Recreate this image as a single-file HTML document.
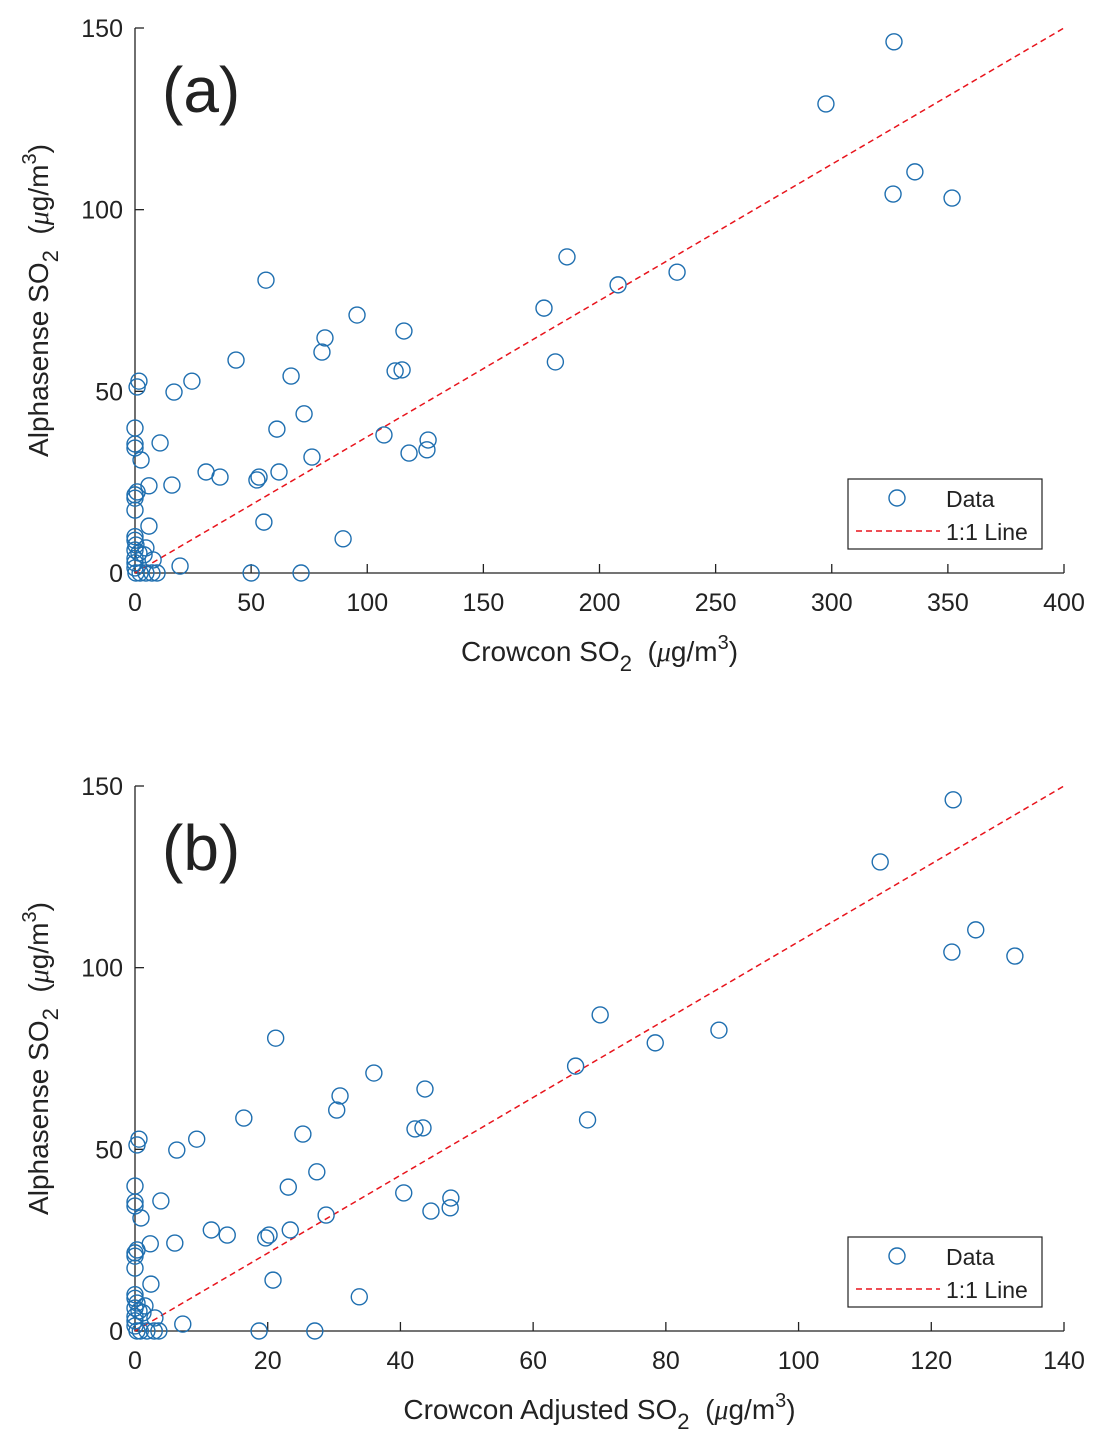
<!DOCTYPE html>
<html><head><meta charset="utf-8"><style>
body{margin:0;background:#fff}
svg{font-family:"Liberation Sans",sans-serif}
</style></head><body>
<svg id="s" width="1102" height="1446" xmlns="http://www.w3.org/2000/svg"></svg>
<script>
const ys=[146.2,129.1,110.4,104.3,103.2,87,79.3,82.8,72.9,58.1,80.6,71,66.6,64.7,60.8,55.6,55.9,54.2,58.6,52.8,52.8,51.2,49.8,43.8,38,39.6,36.6,33.9,33,31.9,39.9,35.5,34.4,35.8,31.1,27.8,26.4,26.4,25.6,27.8,24.2,24,22.3,21.5,20.6,17.3,12.9,14,9.4,1.9,0,0,3.6,0,0,0,0,10,9,7.7,6.3,5.5,5,4,2.8,1.4,0,6.9];
const xsA=[326.8,297.5,335.8,326.4,351.8,186,208,233.4,176.1,181,56.4,95.6,115.8,81.8,80.5,112,115,67.2,43.5,24.5,1.7,0.9,16.8,72.8,107.2,61.1,126.2,125.7,118,76.2,0,0,0,10.8,2.6,30.6,36.6,53.4,52.5,62,15.9,6,0.9,0,0,0,6,55.5,89.6,19.4,50,71.5,7.8,9.5,7.3,4.7,2.2,0,0,0.4,0,1.7,3.9,0,0,0,0.4,4.7];
const xsB=[123.3,112.3,126.7,123.1,132.6,70.1,78.4,88,66.4,68.2,21.2,36,43.7,30.9,30.4,42.2,43.4,25.3,16.4,9.3,0.6,0.3,6.3,27.4,40.5,23.1,47.6,47.5,44.6,28.8,0,0,0,3.9,0.9,11.5,13.9,20.2,19.7,23.4,6,2.3,0.3,0,0,0,2.4,20.8,33.8,7.2,18.7,27.1,3,3.6,2.9,1.8,0.8,0,0,0.3,0,0.6,1.2,0,0,0,0.3,1.5];
const xTicksA=[0,50,100,150,200,250,300,350,400];
const xTicksB=[0,20,40,60,80,100,120,140];
const yTicks=[0,50,100,150];
const NS="http://www.w3.org/2000/svg";
const svg=document.getElementById('s');
function el(t,a,p,txt){const e=document.createElementNS(NS,t);for(const k in a)e.setAttribute(k,a[k]);if(txt!==undefined)e.textContent=txt;(p||svg).appendChild(e);return e;}
const unit='SO<tspan font-size="22" dy="10">2</tspan><tspan dy="-10">&#160;&#160;(</tspan><tspan font-family="Liberation Serif" font-style="italic">μ</tspan>g/m<tspan font-size="20" dy="-12">3</tspan><tspan dy="12">)</tspan>';
function panel(id,top,xs,xmax,xTicks,letter,xlabel){
  const L=135,R=1064,T=top,B=top+545;
  const g=el('g',{});
  
  
  const sx=v=>L+v/xmax*(R-L), sy=v=>B-v/150*(B-T);
  const ax=el('path',{d:`M${L},${T} V${B} H${R}`,stroke:'#222',fill:'none','stroke-width':1.3},g);
  
  
  xTicks.forEach(t=>{const x=sx(t);
    el('line',{x1:x,x2:x,y1:B,y2:B-9,stroke:'#222','stroke-width':1.3},g);
    const tx=el('text',{x:x,y:B+38,'font-size':25,'text-anchor':'middle',fill:'#222'},g,t);
    
    });
  yTicks.forEach(t=>{const y=sy(t);
    el('line',{x1:L,x2:L+9,y1:y,y2:y,stroke:'#222','stroke-width':1.3},g);
    const tx=el('text',{x:L-12,y:y+9,'font-size':25,'text-anchor':'end',fill:'#222'},g,t);
    
    });
  const ln=el('line',{x1:sx(0),y1:sy(0),x2:R,y2:sy(150),stroke:'#e8141c','stroke-width':1.5,'stroke-dasharray':'6,4'},g);
  
  
  xs.forEach((x,i)=>{const c=el('circle',{cx:sx(x),cy:sy(ys[i]),r:8,fill:'none',stroke:'#1f6fb0','stroke-width':1.4},g);
    
    });
  const lt=el('text',{x:162,y:top+84,'font-size':64,fill:'#222'},g,letter);
  
  
  const xl=el('text',{x:(L+R)/2,y:B+88,'font-size':28,'text-anchor':'middle',fill:'#222'},g);
  xl.innerHTML=xlabel+' '+unit;
  
  
  const yl=el('text',{transform:`translate(48,${(T+B)/2}) rotate(-90)`,'font-size':28,'text-anchor':'middle',fill:'#222'},g);
  yl.innerHTML='Alphasense '+unit;
  
  
  const lg=el('g',{},g);
  
  
  const ly=top+451;
  el('rect',{x:848,y:ly,width:194,height:70,fill:'#fff',stroke:'#222','stroke-width':1.2},lg);
  el('circle',{cx:897,cy:ly+19,r:8,fill:'none',stroke:'#1f6fb0','stroke-width':1.4},lg);
  el('text',{x:946,y:ly+28,'font-size':23,fill:'#222'},lg,'Data');
  el('line',{x1:856,x2:940,y1:ly+52,y2:ly+52,stroke:'#e8141c','stroke-width':1.5,'stroke-dasharray':'6,4'},lg);
  el('text',{x:946,y:ly+61,'font-size':23,fill:'#222'},lg,'1:1 Line');
}
panel('a',28,xsA,400,xTicksA,'(a)','Crowcon');
panel('b',786,xsB,140,xTicksB,'(b)','Crowcon Adjusted');
</script>
</body></html>
